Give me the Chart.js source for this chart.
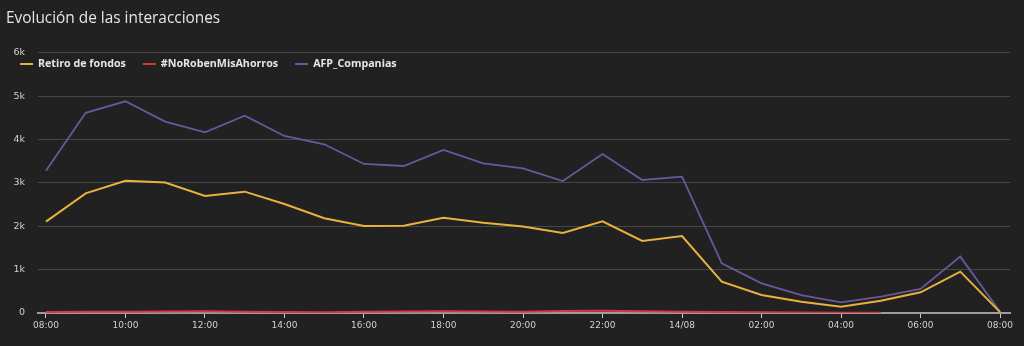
<!DOCTYPE html>
<html>
<head>
<meta charset="utf-8">
<script src="https://cdn.jsdelivr.net/npm/chart.js@4/dist/chart.umd.min.js"></script>
<style>
  html,body{margin:0;padding:0;background:#212121;}
  #wrap{width:1024px;height:346px;}
</style>
</head>
<body>
<div id="wrap"><canvas id="interChart" width="1024" height="346"></canvas></div>
<script>
// hourly samples, 08:00 on 13/08 to 08:00 on 14/08
const hourLabels = ['08:00','09:00','10:00','11:00','12:00','13:00','14:00','15:00','16:00','17:00','18:00','19:00',
  '20:00','21:00','22:00','23:00','14/08','01:00','02:00','03:00','04:00','05:00','06:00','07:00','08:00'];
const retiroFondos = [2110,2760,3050,3010,2700,2800,2515,2185,2010,2015,2200,2085,1995,1846,2115,1661,1777,723,415,261,146,285,477,954,20];
const noRoben = [25,30,28,35,40,30,22,20,30,35,40,32,30,45,50,40,30,25,18,12,8,6,null,null,null];
const afpCompanias = [3280,4620,4885,4415,4170,4554,4085,3893,3439,3392,3762,3454,3338,3046,3669,3069,3146,1146,685,415,246,377,554,1300,30];
const yTicks = [0,1000,2000,3000,4000,5000,6000];
const yTickLabels = ['0','1k','2k','3k','4k','5k','6k'];
const seriesNames = ['Retiro de fondos','#NoRobenMisAhorros','AFP_Companias'];
const seriesColors = ['#e9b23e','#d9363f','#6c569c'];

const toPoints = arr => arr.map((v,i)=>({x:i, y:v}));

// legend drawn over the top of the plot, just under the 6k line
const inlineLegend = {
  id:'inlineLegend',
  afterDatasetsDraw(chart){
    const ctx = chart.ctx;
    let x = 20; const y = 64;
    ctx.save();
    ctx.font = 'bold 10.7px "Open Sans", Lato, sans-serif';
    ctx.textBaseline = 'middle';
    chart.data.datasets.forEach(ds=>{
      ctx.strokeStyle = ds.borderColor; ctx.lineWidth = 2;
      ctx.beginPath(); ctx.moveTo(x, y); ctx.lineTo(x+13, y); ctx.stroke();
      ctx.fillStyle = '#e6e6e6';
      ctx.fillText(ds.label, x+18, y);
      x += 18 + ctx.measureText(ds.label).width + 17;
    });
    ctx.restore();
  }
};

new Chart(document.getElementById('interChart'), {
  type:'line',
  data:{
    datasets:[
      {label:seriesNames[0], data:toPoints(retiroFondos), borderColor:seriesColors[0], borderWidth:2},
      {label:seriesNames[1], data:toPoints(noRoben), borderColor:seriesColors[1], borderWidth:2},
      {label:seriesNames[2], data:toPoints(afpCompanias), borderColor:seriesColors[2], borderWidth:1.8}
    ]
  },
  options:{
    responsive:false, animation:false,
    elements:{point:{radius:0}, line:{tension:0}},
    layout:{padding:{left:6, right:14, top:0, bottom:0}},
    plugins:{
      legend:{display:false},
      tooltip:{enabled:false},
      title:{display:true, text:'Evolución de las interacciones', align:'start', color:'#e4e4e4',
        font:{family:'"Open Sans", Lato, sans-serif', size:15.4, weight:'normal', lineHeight:1.2},
        padding:{top:9, bottom:25.5}}
    },
    scales:{
      x:{
        type:'linear', min:-0.2, max:24.25,
        afterBuildTicks: s=>{ s.ticks = hourLabels.map((l,i)=>({value:i})).filter(t=>t.value%2===0); },
        afterFit: s=>{ s.height = 33; },
        grid:{drawOnChartArea:false, drawTicks:true, tickLength:5, color:'#c8c8c8', lineWidth:1},
        border:{display:true, color:'#9c9c9c', width:2},
        ticks:{color:'#d0d0d0', padding:2, maxRotation:0, autoSkip:false,
          font:{family:'"DejaVu Sans", sans-serif', size:9},
          callback: v => hourLabels[v]}
      },
      y:{
        min:0, max:6000,
        afterBuildTicks: s=>{ s.ticks = yTicks.map(v=>({value:v})); },
        afterFit: s=>{ s.width = 32; },
        grid:{color:'#464646', lineWidth:1, drawTicks:false},
        border:{display:false},
        ticks:{color:'#d0d0d0', padding:13,
          font:{family:'"DejaVu Sans", sans-serif', size:9.5},
          callback: v => yTickLabels[yTicks.indexOf(v)]}
      }
    }
  },
  plugins:[inlineLegend]
});
</script>
</body>
</html>
